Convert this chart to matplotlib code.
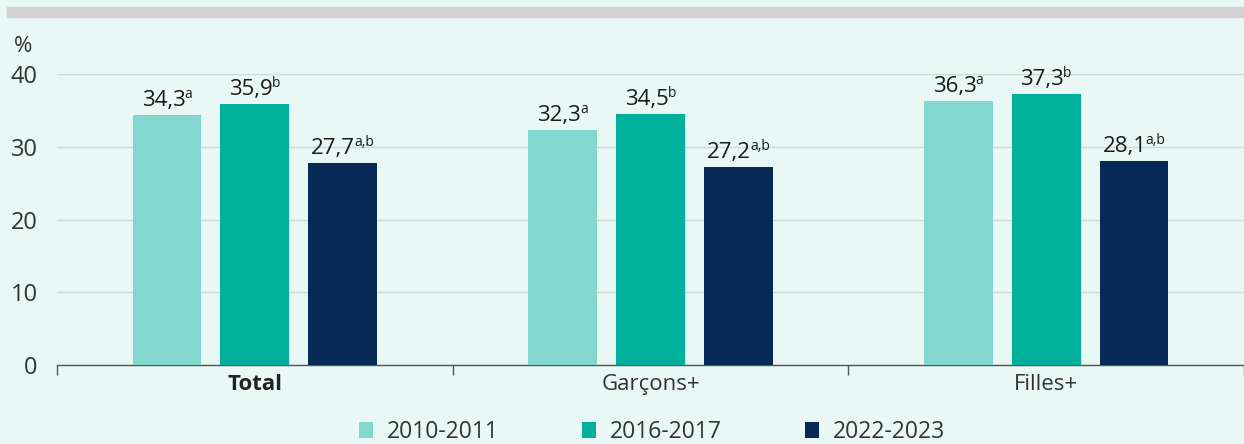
import numpy as np
import matplotlib
matplotlib.use("Agg")
import matplotlib.pyplot as plt
from matplotlib.patches import Rectangle

plt.rcParams["font.family"] = ["Open Sans", "DejaVu Sans"]

BG_COLOR   = "#EAF8F5"
TEXT_COLOR = "#1A1A1A"
GRID_COLOR = "#D0D8D6"

categories = ["Total", "Garçons+", "Filles+"]
periods    = ["2010-2011", "2016-2017", "2022-2023"]
values_2010 = [34.3, 32.3, 36.3]
values_2016 = [35.9, 34.5, 37.3]
values_2022 = [27.7, 27.2, 28.1]
notes_2010 = ["a", "a", "a"]
notes_2016 = ["b", "b", "b"]
notes_2022 = ["a,b", "a,b", "a,b"]
colors = ["#82D7CE", "#00B09B", "#062A55"]

series = [values_2010, values_2016, values_2022]
notes  = [notes_2010, notes_2016, notes_2022]

fig = plt.figure(figsize=(12.44, 4.44), dpi=100, facecolor=BG_COLOR)
ax = fig.add_axes([57 / 1244, 79 / 444, 1 - 57 / 1244, 291 / 444])
ax.set_facecolor(BG_COLOR)

# grey strip across the top
fig.patches.append(Rectangle((7 / 1244, 1 - 17 / 444), 1, 10 / 444,
                             transform=fig.transFigure, color="#D3D3D3",
                             zorder=0))

x = np.arange(len(categories))
width = 0.174
step = 0.222
SUP_Y = 13

labels = []
for i, (vals, nts, col, lab) in enumerate(zip(series, notes, colors, periods)):
    pos = x + (i - 1) * step
    ax.bar(pos, vals, width=width, color=col, label=lab, zorder=3)
    for px, v, n in zip(pos, vals, nts):
        main = ax.annotate(f"{v:.1f}".replace(".", ","), (px, v),
                           xytext=(0, 4), textcoords="offset pixels",
                           ha="left", va="bottom", fontsize=16,
                           color=TEXT_COLOR, annotation_clip=False)
        sup = ax.annotate(n, (px, v), xytext=(0, SUP_Y),
                          textcoords="offset pixels", ha="left",
                          va="bottom", fontsize=10, color=TEXT_COLOR,
                          annotation_clip=False)
        labels.append((main, sup))

ax.set_xlim(-0.5, 2.5)
ax.set_ylim(0, 40)
ax.set_yticks([0, 10, 20, 30, 40])
ax.tick_params(axis="y", length=0, labelsize=17, colors="#333333", pad=14)
ax.yaxis.grid(True, color=GRID_COLOR, linewidth=1, zorder=0)
ax.set_axisbelow(True)

ax.set_xticks([-0.5, 0.5, 1.5, 2.5])
ax.set_xticklabels([])
ax.tick_params(axis="x", length=7, color="#555555", width=1)
for i, c in enumerate(categories):
    ax.text(x[i], -2.7, c, ha="center", va="center", fontsize=16,
            color="#222222" if c == "Total" else "#333333",
            fontweight="bold" if c == "Total" else "normal")

for s in ["top", "right", "left"]:
    ax.spines[s].set_visible(False)
ax.spines["bottom"].set_color("#555555")
ax.spines["bottom"].set_linewidth(1)

fig.text(14 / 1244, 1 - 46 / 444, "%", fontsize=16, color="#333333",
         va="center", ha="left")

fig.legend(loc="center", bbox_to_anchor=(0.5 + 30 / 1244, 1 - 432 / 444),
           ncol=3, frameon=False, fontsize=16.5, handlelength=0.65,
           handleheight=0.65, columnspacing=3.6, handletextpad=0.6,
           labelcolor="#333333")

# centre number + superscript together over each bar
fig.canvas.draw()
r = fig.canvas.get_renderer()
for main, sup in labels:
    wm = main.get_window_extent(r).width
    ws = sup.get_window_extent(r).width
    total = wm + ws - 1
    main.set_position((-total / 2, 4))
    sup.set_position((-total / 2 + wm - 1, SUP_Y))

fig.savefig("out.png", dpi=100, facecolor=BG_COLOR)
